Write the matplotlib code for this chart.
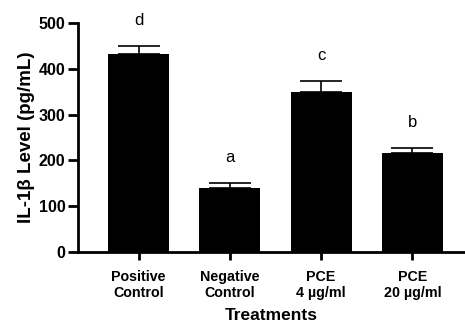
import matplotlib
matplotlib.use("Agg")
import matplotlib.pyplot as plt

plt.rcParams['font.family'] = ['Liberation Sans', 'DejaVu Sans']

categories = ["Positive\nControl", "Negative\nControl", "PCE\n4 µg/ml", "PCE\n20 µg/ml"]
values = [432, 139, 349, 216]
errors = [17, 11, 25, 12]
letters = ["d", "a", "c", "b"]

fig = plt.figure(figsize=(4.65, 3.23), dpi=100)
ax = fig.add_axes([78/465, 1-252/323, 1-78/465, (252-23)/323])

x = list(range(len(categories)))
ax.bar(x, values, width=0.67, color='black', zorder=2)
ax.errorbar(x, values, yerr=[[0]*len(values), errors], fmt='none', ecolor='black',
            elinewidth=1.2, capsize=15, capthick=1.2, zorder=1)
for xi, v, e, l in zip(x, values, errors, letters):
    ax.annotate(l, (xi, v + e), xytext=(0, 13), textcoords='offset points',
                ha='center', va='bottom', fontsize=12)

ax.set_xlim(-0.663, 3.576)
ax.set_ylim(0, 500)
ax.set_yticks([0, 100, 200, 300, 400, 500])
ax.set_xticks(x)
ax.set_xticklabels(categories, fontsize=10.3, fontweight='bold', linespacing=1.15)
for lab in ax.get_yticklabels():
    lab.set_fontweight('bold')
    lab.set_fontsize(11.5)
ax.set_ylabel("IL-1β Level (pg/mL)", fontsize=13.5, fontweight='bold', labelpad=3)
ax.set_xlabel("Treatments", fontsize=12.5, fontweight='bold', labelpad=6)
for s in ['top', 'right']:
    ax.spines[s].set_visible(False)
for s in ['left', 'bottom']:
    ax.spines[s].set_linewidth(2)
ax.tick_params(axis='y', length=7, width=2, pad=2)
ax.tick_params(axis='x', length=6, width=2, pad=7)

fig.savefig("out.png", dpi=100)
